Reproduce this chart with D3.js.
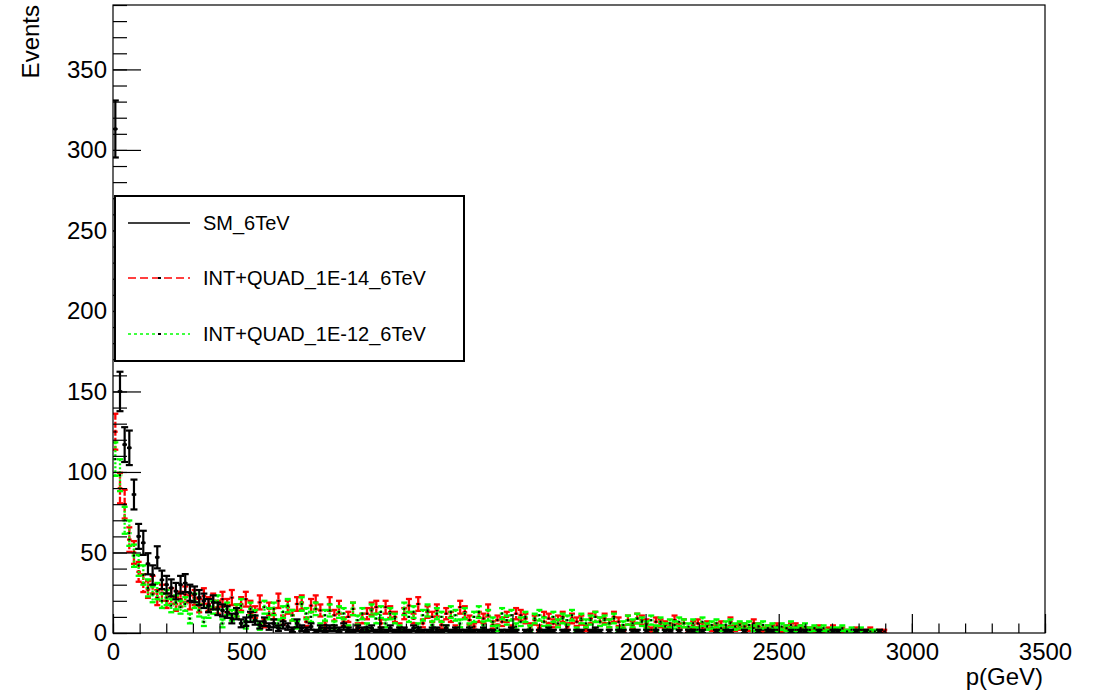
<!DOCTYPE html>
<html>
<head>
<meta charset="utf-8">
<script src="https://cdn.jsdelivr.net/npm/d3@7"></script>
<style>
  html, body { margin: 0; padding: 0; background: #fff; }
  svg { display: block; font-family: "Liberation Sans", Arial, sans-serif; }
</style>
</head>
<body>
<svg id="chart" width="1094" height="694"></svg>
<script>
// ---- histogram binning (200 bins, 0-3500 GeV) ----
const binLow = 0;
const binWidth = 17.5;
const xDomain = [0, 3500];
const yDomain = [0, 390];
const xMajorTicks = [0, 500, 1000, 1500, 2000, 2500, 3000, 3500];
const yMajorTicks = [0, 50, 100, 150, 200, 250, 300, 350];
const seriesNames = ["SM_6TeV", "INT+QUAD_1E-14_6TeV", "INT+QUAD_1E-12_6TeV"];

// bin contents, bin 0 starts at 0 GeV
const smValues = [
  313,150,117,115,86,60,56,43,36,47,33,30,28,26,30,
  31,25,24,22,20,17,19,15,14,13,9,12,6,7,10,
  8,5,7,4,6,3,5,4,2,6,3,2,4,1,3,
  2,3,3,2,4,2,1,3,2,2,3,1,2,1,3,
  1,2,2,1,3,2,1,1,2,2,1,3,1,2,1,
  1,2,1,1,2,1,1,0,1,1,2,1,0,1,1,
  0,1,1,2,1,0,1,1,0,1,1,0,1,2,1,
  0,1,0,1,1,0,1,1,0,1,0,1,0,1,1,
  0,1,0,1,1,0,1,0,0,1,0,1,1,0,0,
  1,0,0,1,0,1,1,0,0,0,1,0,1,1,0,
  0,1,0,0,1,1,0,0,0,1,0,1,0,0,1,0
];
const quad14Values = [
  125,90,80,58,50,38,31,27,30,22,25,20,23,18,21,
  24,19,22,17,23,18,20,16,21,17,22,14,18,21,16,
  13,19,6,15,12,20,8,16,11,18,19,7,17,19,14,
  5,18,11,16,7,10,15,4,9,12,15,16,6,16,13,
  10,4,12,17,9,18,6,13,10,14,5,12,10,3,16,
  13,8,4,10,9,14,5,8,7,10,3,12,11,9,4,
  8,3,10,9,6,8,10,4,9,7,8,3,9,10,7,
  9,6,10,7,3,8,5,9,8,6,2,7,6,5,4,
  8,4,6,2,5,6,4,5,3,4,5,2,7,3,4,
  4,3,6,4,2,3,3,4,2,3,4,4,3,2,2,
  2,3,1,2,3,1,2,1,0,2,1,1,2,0,1,1
];
const quad12Values = [
  108,98,70,62,48,42,36,28,24,26,20,22,17,19,16,
  18,9,20,14,7,13,16,19,6,15,11,14,17,5,15,
  11,4,16,12,15,6,13,17,11,5,18,12,10,15,4,
  11,14,5,13,12,3,15,8,12,4,14,9,13,6,12,
  9,3,15,10,13,4,11,14,5,12,10,3,13,11,6,
  12,4,10,13,5,11,7,3,12,8,11,4,7,10,3,
  9,11,7,3,10,6,9,8,11,2,9,6,8,10,7,
  8,6,9,2,5,8,6,9,7,5,8,3,7,4,6,
  5,7,6,4,6,2,7,4,5,6,3,5,6,4,5,
  4,5,3,4,5,3,4,2,4,3,5,2,3,4,2,
  3,2,3,1,2,2,3,1,2,1,2,0,1,1,0,0
];

// ---- layout ----
const svg = d3.select("#chart");
const L = 113, R = 1045, T = 5, B = 633;
const x = d3.scaleLinear().domain(xDomain).range([L, R]);
const y = d3.scaleLinear().domain(yDomain).range([B, T]);

const plotW = R - L, plotH = B - T;
const xMajorLen = 19, xMinorLen = 9.5;
const yMajorLen = 28, yMinorLen = 14;

svg.append("defs").append("clipPath").attr("id", "clip")
  .append("rect").attr("x", L).attr("y", T).attr("width", plotW).attr("height", plotH);

// ---- series drawing ----
function toBins(values) {
  return values.map((v, i) => ({
    lo: binLow + i * binWidth,
    hi: binLow + (i + 1) * binWidth,
    c: binLow + (i + 0.5) * binWidth,
    v: v,
    e: Math.sqrt(v)
  })).filter(d => d.v > 0);
}

function drawSeries(values, opt) {
  const g = svg.append("g").attr("clip-path", "url(#clip)");
  const bins = toBins(values);
  const s = g.selectAll("g").data(bins).join("g");
  const style = sel => sel.attr("stroke", opt.color).attr("stroke-width", opt.width)
    .attr("stroke-dasharray", opt.dash).attr("fill", "none");
  s.append("line").call(style)
    .attr("x1", d => x(d.c)).attr("x2", d => x(d.c))
    .attr("y1", d => y(d.v + d.e)).attr("y2", d => y(d.v - d.e));
  s.append("line").call(style)
    .attr("x1", d => x(d.lo)).attr("x2", d => x(d.hi))
    .attr("y1", d => y(d.v)).attr("y2", d => y(d.v));
  s.append("line").call(style).attr("stroke-dasharray", null)
    .attr("x1", d => x(d.c) - opt.cap).attr("x2", d => x(d.c) + opt.cap)
    .attr("y1", d => y(d.v + d.e)).attr("y2", d => y(d.v + d.e));
  s.append("line").call(style).attr("stroke-dasharray", null)
    .attr("x1", d => x(d.c) - opt.cap).attr("x2", d => x(d.c) + opt.cap)
    .attr("y1", d => y(Math.max(d.v - d.e, 0))).attr("y2", d => y(Math.max(d.v - d.e, 0)));
  s.append("rect")
    .attr("x", d => x(d.c) - opt.marker / 2).attr("y", d => y(d.v) - opt.marker / 2)
    .attr("width", opt.marker).attr("height", opt.marker).attr("fill", "#000");
}

drawSeries(quad14Values, { color: "#ff0000", width: 2.3, dash: "6,2", cap: 3, marker: 2 });
drawSeries(quad12Values, { color: "#00ff00", width: 2.3, dash: "2,2", cap: 3, marker: 2 });
drawSeries(smValues, { color: "#000000", width: 2.2, dash: null, cap: 3.5, marker: 3 });

// ---- axes ----
const xMinor = d3.range(0, 3501, 100);
const yMinor = d3.range(0, 391, 10);

const axX = svg.append("g").attr("transform", `translate(0,${B})`);
axX.append("g").call(d3.axisBottom(x).tickValues(xMinor).tickSize(-xMinorLen).tickFormat(""))
  .call(g => g.select(".domain").remove());
axX.append("g").call(d3.axisBottom(x).tickValues(xMajorTicks).tickSize(-xMajorLen).tickPadding(10).tickFormat(d3.format("d")))
  .call(g => g.select(".domain").remove())
  .call(g => g.selectAll("text").attr("font-size", 24).attr("fill", "#000")
        .attr("font-family", "'Liberation Sans', Arial, sans-serif"));

const axY = svg.append("g").attr("transform", `translate(${L},0)`);
axY.append("g").call(d3.axisLeft(y).tickValues(yMinor).tickSize(-yMinorLen).tickFormat(""))
  .call(g => g.select(".domain").remove());
axY.append("g").call(d3.axisLeft(y).tickValues(yMajorTicks).tickSize(-yMajorLen).tickPadding(6).tickFormat(d3.format("d")))
  .call(g => g.select(".domain").remove())
  .call(g => g.selectAll("text").attr("font-size", 24).attr("fill", "#000")
        .attr("font-family", "'Liberation Sans', Arial, sans-serif"));

svg.selectAll(".tick line").attr("stroke", "#000").attr("stroke-width", 1.2);

svg.append("rect").attr("x", L).attr("y", T).attr("width", plotW).attr("height", plotH)
  .attr("fill", "none").attr("stroke", "#000").attr("stroke-width", 1.2);

svg.append("text").attr("transform", `translate(39,${T}) rotate(-90)`)
  .attr("text-anchor", "end").attr("font-size", 24).attr("fill", "#000").text("Events");
svg.append("text").attr("x", 1043).attr("y", 685)
  .attr("text-anchor", "end").attr("font-size", 24).attr("fill", "#000").text("p(GeV)");

// ---- legend ----
const leg = svg.append("g");
leg.append("rect").attr("x", 115).attr("y", 196).attr("width", 349).attr("height", 165)
  .attr("fill", "#fff").attr("stroke", "#000").attr("stroke-width", 2);
const legStyles = [
  { color: "#000000", dash: null },
  { color: "#ff0000", dash: "8,4" },
  { color: "#00ff00", dash: "3,3" }
];
const legY = [223, 278, 334];
seriesNames.forEach((name, i) => {
  leg.append("line").attr("x1", 128).attr("x2", 190).attr("y1", legY[i]).attr("y2", legY[i])
    .attr("stroke", legStyles[i].color).attr("stroke-width", 1.5)
    .attr("stroke-dasharray", legStyles[i].dash);
  if (i > 0) {
    leg.append("rect").attr("x", 158).attr("y", legY[i] - 1).attr("width", 3).attr("height", 2).attr("fill", "#000");
  }
  leg.append("text").attr("x", 203).attr("y", legY[i] + 7)
    .attr("font-size", 20).attr("fill", "#000").text(name);
});
</script>
</body>
</html>
